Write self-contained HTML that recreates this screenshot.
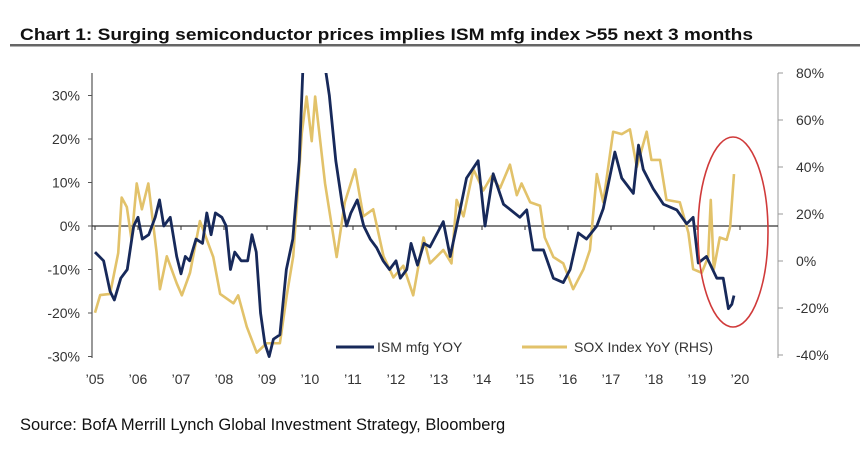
<!DOCTYPE html>
<html><head><meta charset="utf-8"><style>
body{margin:0;background:#fff;width:863px;height:449px;overflow:hidden}
svg{display:block;font-family:"Liberation Sans",Arial,sans-serif}
</style></head><body>
<svg id="chart" width="863" height="449" viewBox="0 0 863 449">
<text x="20" y="40" font-size="17" font-weight="bold" fill="#111" textLength="733" lengthAdjust="spacingAndGlyphs">Chart 1: Surging semiconductor prices implies ISM mfg index &gt;55 next 3 months</text>
<rect x="10" y="44" width="850" height="2.5" fill="#666"/>
<text x="20" y="430" font-size="16.5" fill="#111">Source: BofA Merrill Lynch Global Investment Strategy, Bloomberg</text>
<defs><clipPath id="clip"><rect x="92" y="73" width="686" height="285"/></clipPath></defs>
<g id="axes"></g>
<g id="series" clip-path="url(#clip)"></g>
<ellipse cx="733" cy="232" rx="35" ry="95" fill="none" stroke="#d03a3a" stroke-width="1.6"/>
<g>
<line x1="336" y1="347" x2="374" y2="347" stroke="#17295a" stroke-width="3"/>
<text x="377" y="352" font-size="14" fill="#333">ISM mfg YOY</text>
<line x1="522" y1="347" x2="567" y2="347" stroke="#e2c26a" stroke-width="3"/>
<text x="574" y="352" font-size="14" fill="#333">SOX Index YoY (RHS)</text>
</g>
</svg>
<script>
const years=['\u201905','\u201906','\u201907','\u201908','\u201909','\u201910','\u201911','\u201912','\u201913','\u201914','\u201915','\u201916','\u201917','\u201918','\u201919','\u201920'];
const leftTicks=[30,20,10,0,-10,-20,-30];
const rightTicks=[80,60,40,20,0,-20,-40];
const ismT=[2005.0,2005.2,2005.35,2005.45,2005.6,2005.75,2005.9,2006.0,2006.1,2006.25,2006.4,2006.5,2006.6,2006.75,2006.9,2007.0,2007.1,2007.2,2007.35,2007.5,2007.6,2007.7,2007.8,2007.95,2008.05,2008.15,2008.25,2008.4,2008.55,2008.65,2008.75,2008.85,2008.95,2009.05,2009.15,2009.3,2009.45,2009.6,2009.75,2009.85,2010.3,2010.45,2010.6,2010.75,2010.85,2010.95,2011.1,2011.25,2011.4,2011.55,2011.7,2011.85,2012.0,2012.1,2012.25,2012.35,2012.5,2012.65,2012.79,2013.1,2013.26,2013.49,2013.64,2013.91,2014.07,2014.26,2014.5,2014.88,2015.04,2015.19,2015.43,2015.66,2015.89,2016.05,2016.24,2016.43,2016.67,2016.82,2017.09,2017.25,2017.52,2017.64,2017.75,2017.98,2018.22,2018.53,2018.76,2018.91,2019.03,2019.22,2019.46,2019.61,2019.73,2019.81,2019.86];
const ismV=[-6,-8,-15,-17,-12,-10,0,2,-3,-2,2,6,0,2,-7,-11,-7,-8,-3,-4,3,-2,3,2,0,-10,-6,-8,-8,-2,-6,-20,-27,-30,-26,-25,-10,-3,15,40,40,30,15,5,0,3,6,0,-3,-5,-8,-10,-8,-12,-10,-4,-9,-4,-4.8,1,-7,3.7,11,15,0,12,5,2,3.7,-5.5,-5.5,-12,-13,-10,-1.6,-3,0,4,17,11,7.5,18.6,13,8.6,5,3.7,0.5,2,-8.5,-7,-12,-12,-19,-18,-16];
const soxT=[2005.0,2005.12,2005.35,2005.54,2005.62,2005.74,2005.85,2005.97,2006.09,2006.24,2006.43,2006.51,2006.67,2006.9,2007.02,2007.21,2007.44,2007.75,2007.91,2008.22,2008.33,2008.53,2008.76,2008.99,2009.3,2009.46,2009.61,2009.81,2009.92,2010.04,2010.12,2010.35,2010.62,2010.81,2011.05,2011.24,2011.47,2011.71,2011.94,2012.17,2012.4,2012.64,2012.79,2013.1,2013.29,2013.41,2013.57,2013.8,2014.03,2014.22,2014.42,2014.65,2014.81,2014.92,2015.12,2015.35,2015.46,2015.66,2015.89,2016.12,2016.36,2016.51,2016.67,2016.82,2017.05,2017.25,2017.44,2017.6,2017.83,2017.94,2018.14,2018.29,2018.6,2018.8,2018.91,2019.11,2019.26,2019.32,2019.39,2019.53,2019.69,2019.77,2019.86];
const soxV=[-22,-14.5,-14,3.4,27,23,9,33,22,33,4,-12,2,-9.5,-14.6,-5,17,1.7,-14,-18,-14.6,-28,-39,-35,-35,-14.6,2,54.5,70,51,70,33,1.7,25,39,19,22,2,-7,-2,-14.6,10,-1,4.7,-1,26,19,39,30,36,31,41,28,33,25,23.5,10,1.7,-1,-12,-3.5,4.7,37,25,55,54,56,40,55,43,43,26,25,12,-3.5,-5,1.7,26,-3.5,10,9,14.5,37];
const X=y=>95+(y-2005)*43.0;
const YL=v=>226-v*4.35;
const YR=v=>261-v*2.35;
const NS='http://www.w3.org/2000/svg';
const axes=document.getElementById('axes'),series=document.getElementById('series');
function mk(tag,attrs,parent){const e=document.createElementNS(NS,tag);for(const k in attrs)e.setAttribute(k,attrs[k]);parent.appendChild(e);return e;}
let e;
e=mk('line',{x1:92,y1:73,x2:92,y2:358,stroke:'#555','stroke-width':1.2},axes);


e=mk('line',{x1:778,y1:73,x2:778,y2:358,stroke:'#999','stroke-width':1},axes);


e=mk('line',{x1:92,y1:YL(0),x2:778,y2:YL(0),stroke:'#333','stroke-width':1.2},axes);


leftTicks.forEach(v=>{
 mk('line',{x1:88,y1:YL(v),x2:92,y2:YL(v),stroke:'#555'},axes);
 e=mk('text',{x:80,y:YL(v)+5,'font-size':14,fill:'#333','text-anchor':'end'},axes);
 e.textContent=v+'%';
 
 
});
rightTicks.forEach(v=>{
 mk('line',{x1:778,y1:YR(v),x2:783,y2:YR(v),stroke:'#999'},axes);
 e=mk('text',{x:796,y:YR(v)+5,'font-size':14,fill:'#333'},axes);
 e.textContent=v+'%';
 
 
});
years.forEach((lab,i)=>{
 const x=X(2005+i);
 mk('line',{x1:x,y1:YL(0),x2:x,y2:YL(0)+4,stroke:'#333'},axes);
 e=mk('text',{x:x,y:384,'font-size':14,fill:'#333','text-anchor':'middle'},axes);
 e.textContent=lab;
 
 
});
e=mk('polyline',{points:soxT.map((t,i)=>X(t)+','+YR(soxV[i])).join(' '),fill:'none',stroke:'#e2c26a','stroke-width':2.6,'stroke-linejoin':'round'},series);


e=mk('polyline',{points:ismT.map((t,i)=>X(t)+','+YL(ismV[i])).join(' '),fill:'none',stroke:'#17295a','stroke-width':2.8,'stroke-linejoin':'round'},series);


</script>
</body></html>
